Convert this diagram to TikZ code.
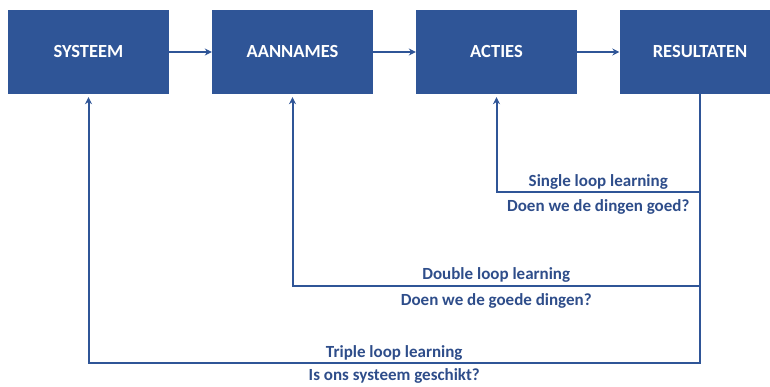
\documentclass[tikz,border=0pt]{standalone}
\usepackage{fontspec}
\setmainfont{Carlito}
\usetikzlibrary{arrows.meta}
\begin{document}
\begin{tikzpicture}[x=1pt,y=-1pt,
    stage/.style={fill=boxColour, draw=none, minimum width=161pt, minimum height=84pt,
        inner sep=0pt, text=white, font=\bfseries\fontsize{18.5}{20}\selectfont},
    flow/.style={draw=lineColour, line width=2pt, -{Stealth[length=7pt,width=7pt]}},
    looplabel/.style={text=textColour, font=\bfseries\fontsize{17}{19}\selectfont, inner sep=2pt}]
    \definecolor{boxColour}{HTML}{2F5597}
    \definecolor{lineColour}{HTML}{2F5597}
    \definecolor{textColour}{HTML}{2E4D8A}

    \useasboundingbox (0,0) rectangle (770,387);

    % Draw stages
    \node[stage] (sys) at (88.5,52) {SYSTEEM};
    \node[stage] (ann) at (292.5,52) {AANNAMES};
    \node[stage] (act) at (496.5,52) {ACTIES};
    \node[stage] (res) at (700,52) {RESULTATEN};

    % Forward arrows
    \draw[flow] (sys) -- (ann);
    \draw[flow] (ann) -- (act);
    \draw[flow] (act) -- (res);

    % Corners of the loops
    \coordinate (singleCorner) at (res.south |- 0,192);
    \coordinate (doubleCorner) at (res.south |- 0,286);
    \coordinate (tripleCorner) at (res.south |- 0,363);

    % Triple loop
    \draw[flow, shorten >=3pt] (res.south) -- (tripleCorner)
        -- node[looplabel, above] {Triple loop learning}
           node[looplabel, below=3pt] {Is ons systeem geschikt?} (sys.south |- tripleCorner)
        -- (sys.south);

    % Double loop
    \draw[flow, shorten >=3pt] (doubleCorner)
        -- node[looplabel, above=1pt] {Double loop learning}
           node[looplabel, below=5pt] {Doen we de goede dingen?} (ann.south |- doubleCorner)
        -- (ann.south);

    % Single loop
    \draw[flow, shorten >=3pt] (singleCorner)
        -- node[looplabel, above] {Single loop learning}
           node[looplabel, below=5pt] {Doen we de dingen goed?} (act.south |- singleCorner)
        -- (act.south);

\end{tikzpicture}
\end{document}
